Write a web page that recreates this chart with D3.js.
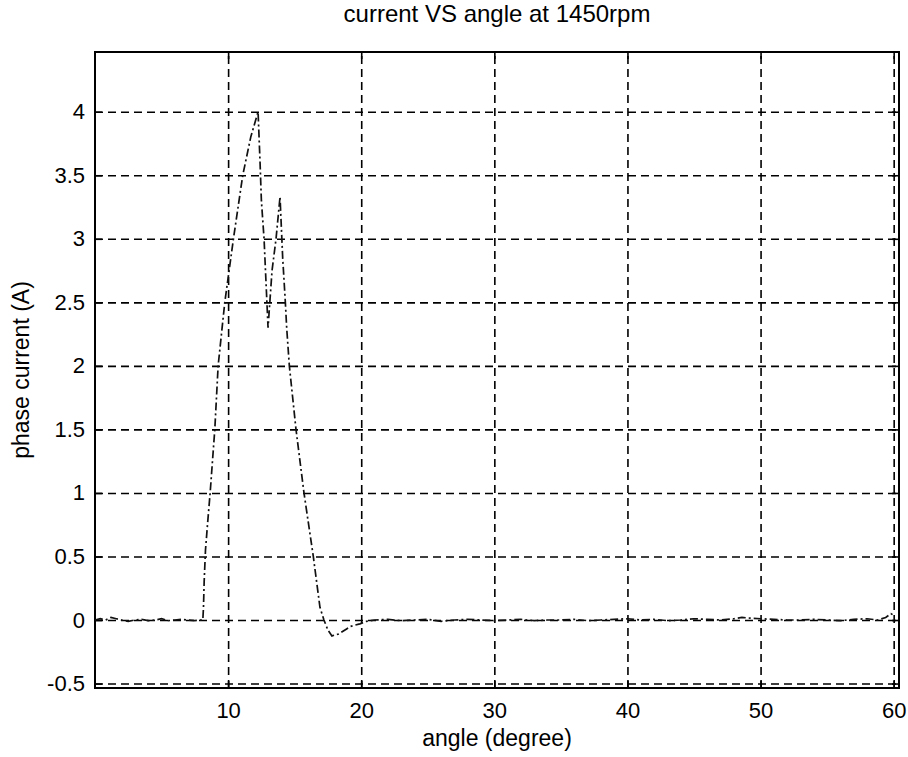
<!DOCTYPE html>
<html>
<head>
<meta charset="utf-8">
<script src="https://cdn.jsdelivr.net/npm/d3@7"></script>
<style>
  html, body { margin: 0; padding: 0; background: #fff; }
  svg { display: block; font-family: "Liberation Sans", Arial, Helvetica, sans-serif; }
</style>
</head>
<body>
<svg id="chart" width="908" height="757"></svg>
<script>
// ---- data ----
const titleText = "current VS angle at 1450rpm";
const xLabelText = "angle (degree)";
const yLabelText = "phase current (A)";

const xTickValues = [10, 20, 30, 40, 50, 60];
const xTickLabels = ["10", "20", "30", "40", "50", "60"];
const yTickValues = [-0.5, 0, 0.5, 1, 1.5, 2, 2.5, 3, 3.5, 4];
const yTickLabels = ["-0.5", "0", "0.5", "1", "1.5", "2", "2.5", "3", "3.5", "4"];

const angle = [
  0, 0.4, 0.8, 1.2, 1.6, 2.0, 2.5, 3.0, 3.5, 4.0, 4.5, 5.0, 5.5, 6.0, 6.5, 7.0, 7.5, 8.0, 8.1,
  8.15, 8.2, 8.3, 8.45, 8.65, 9.0, 9.25, 9.75, 10.4, 11.1, 11.7, 12.25,
  12.4, 12.5, 12.7, 13.0, 13.3, 13.6, 13.9, 14.1, 14.3, 14.4, 14.6, 15.1, 15.7, 16.4, 16.9, 17.2,
  17.5, 17.8, 18.3, 18.9, 19.2, 19.9, 20.4, 21,
  22, 23, 24, 25, 26, 27, 28, 29, 30, 31, 32, 33, 34, 35, 36, 37, 38, 39, 40,
  41, 42, 43, 44, 45, 46, 47, 48, 48.6, 49.2, 50, 51, 52, 53, 54, 55, 56, 57, 58, 58.8, 59.4, 59.8, 60.1
];
const current = [
  0.0, 0.01, 0.0, 0.02, 0.01, 0.0, -0.01, 0.0, 0.005, -0.005, 0.0, 0.01, -0.005, 0.0, 0.005, 0.0, -0.005, 0.0, 0.0,
  0.1, 0.3, 0.55, 0.75, 1.0, 1.5, 2.0, 2.5, 3.0, 3.5, 3.8, 4.0,
  3.6, 3.3, 3.0, 2.3, 2.75, 3.0, 3.33, 2.85, 2.5, 2.3, 2.0, 1.5, 1.0, 0.5, 0.1, 0.0,
  -0.08, -0.125, -0.11, -0.07, -0.05, -0.03, -0.01, 0.0,
  0.005, -0.005, 0.0, 0.005, -0.01, 0.0, 0.005, 0.0, -0.005, 0.0, 0.005, -0.005, 0.0, 0.0, 0.005, -0.005, 0.0, 0.005, 0.01,
  0.0, 0.005, -0.005, 0.0, 0.01, 0.005, 0.0, 0.01, 0.02, 0.015, 0.01, 0.005, 0.0, 0.0, 0.005, 0.0, -0.005, 0.005, 0.01, 0.0, 0.02, 0.05, 0.03
];

// ---- layout ----
const pLeft = 95, pRight = 899, pTop = 52, pBottom = 688;
const svg = d3.select("#chart");

const x = d3.scaleLinear().domain([0, 60.4]).range([pLeft, pRight]);
const y = d3.scaleLinear().domain([-0.535, 4.47]).range([pBottom, pTop]);

// grid lines (dashed)
const grid = svg.append("g");
grid.append("g")
  .attr("transform", `translate(0,${pBottom})`)
  .call(d3.axisBottom(x).tickValues(xTickValues).tickSize(-(pBottom - pTop)).tickFormat(""))
  .call(g => g.select(".domain").remove())
  .call(g => g.selectAll("line").attr("stroke", "#000").attr("stroke-width", 1.6).attr("stroke-dasharray", "8,5"));
grid.append("g")
  .attr("transform", `translate(${pLeft},0)`)
  .call(d3.axisLeft(y).tickValues(yTickValues).tickSize(-(pRight - pLeft)).tickFormat(""))
  .call(g => g.select(".domain").remove())
  .call(g => g.selectAll("line").attr("stroke", "#000").attr("stroke-width", 1.6).attr("stroke-dasharray", "8,5"));

// inner ticks on all four sides
const tickLen = 7;
const axB = svg.append("g").attr("transform", `translate(0,${pBottom})`)
  .call(d3.axisBottom(x).tickValues(xTickValues).tickSizeInner(-tickLen).tickSizeOuter(0).tickPadding(14)
    .tickFormat((d, i) => xTickLabels[i]));
const axT = svg.append("g").attr("transform", `translate(0,${pTop})`)
  .call(d3.axisTop(x).tickValues(xTickValues).tickSizeInner(-tickLen).tickSizeOuter(0).tickFormat(""));
const axL = svg.append("g").attr("transform", `translate(${pLeft},0)`)
  .call(d3.axisLeft(y).tickValues(yTickValues).tickSizeInner(-tickLen).tickSizeOuter(0).tickPadding(10)
    .tickFormat((d, i) => yTickLabels[i]));
const axR = svg.append("g").attr("transform", `translate(${pRight},0)`)
  .call(d3.axisRight(y).tickValues(yTickValues).tickSizeInner(-tickLen).tickSizeOuter(0).tickFormat(""));

[axB, axT, axL, axR].forEach(a => {
  a.select(".domain").remove();
  a.selectAll("line").attr("stroke", "#000").attr("stroke-width", 1.6);
  a.selectAll("text").attr("fill", "#000").attr("font-size", 22)
    .attr("font-family", '"Liberation Sans", Arial, sans-serif');
});

// frame
svg.append("rect")
  .attr("x", pLeft).attr("y", pTop)
  .attr("width", pRight - pLeft).attr("height", pBottom - pTop)
  .attr("fill", "none").attr("stroke", "#000").attr("stroke-width", 2);

// data line (dash-dot)
const pts = angle.map((a, i) => [a, current[i]]);
svg.append("path")
  .datum(pts)
  .attr("fill", "none")
  .attr("stroke", "#111")
  .attr("stroke-width", 1.7)
  .attr("stroke-dasharray", "8,3,2,3")
  .attr("d", d3.line().x(d => x(d[0])).y(d => y(d[1])));

// title and labels
svg.append("text")
  .attr("x", (pLeft + pRight) / 2).attr("y", 22)
  .attr("text-anchor", "middle").attr("font-size", 24).attr("fill", "#000")
  .text(titleText);
svg.append("text")
  .attr("x", (pLeft + pRight) / 2).attr("y", 746)
  .attr("text-anchor", "middle").attr("font-size", 23).attr("fill", "#000")
  .text(xLabelText);
svg.append("text")
  .attr("transform", `translate(29,${(pTop + pBottom) / 2}) rotate(-90)`)
  .attr("text-anchor", "middle").attr("font-size", 23).attr("fill", "#000")
  .text(yLabelText);
</script>
</body>
</html>
